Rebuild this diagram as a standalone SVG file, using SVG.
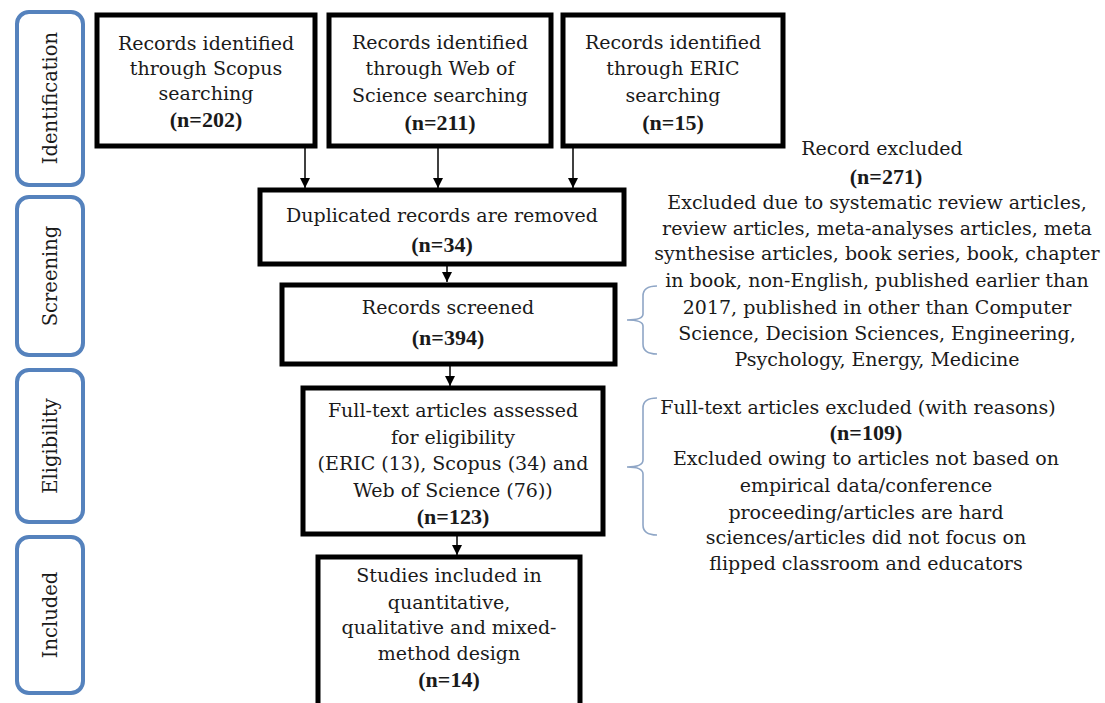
<svg xmlns="http://www.w3.org/2000/svg" width="1105" height="703" viewBox="0 0 1105 703">
<style>
text{font-family:"DejaVu Serif","Liberation Serif",serif;font-size:19px;fill:#1a1a1a;text-anchor:middle}
.b{font-family:"Liberation Serif","Times New Roman",serif;font-weight:bold;font-size:22px}
.ph{font-size:19.5px}
.box{fill:#fff;stroke:#000;stroke-width:5}
.phase{fill:#fff;stroke:#5582bd;stroke-width:4}
.brace{fill:none;stroke:#8fa6c6;stroke-width:1.6}
.conn{stroke:#000;stroke-width:1.5;fill:none}
</style>
<defs>
<marker id="ah" viewBox="0 0 10 10" refX="10" refY="5" markerWidth="10" markerHeight="10" markerUnits="userSpaceOnUse" orient="auto">
<path d="M0,0 L10,5 L0,10 z" fill="#000"/>
</marker>
</defs>
<rect width="1105" height="703" fill="#fff"/>

<g id="phase-identification"><rect class="phase" x="17" y="12" width="66" height="173" rx="12"/><text class="ph" transform="translate(57,98) rotate(-90)">Identification</text></g>
<g id="phase-screening"><rect class="phase" x="17" y="197" width="66" height="158" rx="12"/><text class="ph" transform="translate(57,276) rotate(-90)">Screening</text></g>
<g id="phase-eligibility"><rect class="phase" x="17" y="370" width="66" height="152" rx="12"/><text class="ph" transform="translate(57,446) rotate(-90)">Eligibility</text></g>
<g id="phase-included"><rect class="phase" x="17" y="537" width="66" height="156" rx="12"/><text class="ph" transform="translate(57,615) rotate(-90)">Included</text></g>

<g id="connectors">
<line class="conn" x1="305" y1="147" x2="305" y2="188" marker-end="url(#ah)"/>
<line class="conn" x1="438" y1="147" x2="438" y2="188" marker-end="url(#ah)"/>
<line class="conn" x1="573" y1="147" x2="573" y2="188" marker-end="url(#ah)"/>
<line class="conn" x1="447" y1="265" x2="447" y2="282" marker-end="url(#ah)"/>
<line class="conn" x1="450" y1="365" x2="450" y2="386" marker-end="url(#ah)"/>
<line class="conn" x1="457" y1="536" x2="457" y2="555" marker-end="url(#ah)"/>
<path class="brace" d="M657,286 Q643,286 643,296 L643,314 Q643,320 627,320 Q643,320 643,326 L643,344 Q643,354 657,354"/>
<path class="brace" d="M657,398 Q643,398 643,408 L643,460 Q643,467 627,467 Q643,467 643,474 L643,525 Q643,535 657,535"/>
</g>

<g id="scopus"><rect class="box" x="97" y="15" width="218" height="131"/>
<text x="206" y="50">Records identified</text><text x="206" y="75">through Scopus</text><text x="206" y="100">searching</text><text class="b" x="206" y="127">(n=202)</text></g>

<g id="wos"><rect class="box" x="329" y="15" width="222" height="131"/>
<text x="440" y="49">Records identified</text><text x="440" y="75">through Web of</text><text x="440" y="102">Science searching</text><text class="b" x="440" y="130">(n=211)</text></g>

<g id="eric"><rect class="box" x="563" y="15" width="220" height="131"/>
<text x="673" y="49">Records identified</text><text x="673" y="75">through ERIC</text><text x="673" y="102">searching</text><text class="b" x="673" y="130">(n=15)</text></g>

<g id="duplicated"><rect class="box" x="260" y="190" width="364" height="74"/>
<text x="442" y="222">Duplicated records are removed</text><text class="b" x="442" y="252">(n=34)</text></g>

<g id="screened"><rect class="box" x="282" y="285" width="333" height="79"/>
<text x="448" y="314">Records screened</text><text class="b" x="448" y="345">(n=394)</text></g>

<g id="fulltext"><rect class="box" x="303" y="388" width="300" height="146"/>
<text x="453" y="417">Full-text articles assessed</text><text x="453" y="444">for eligibility</text><text x="453" y="470">(ERIC (13), Scopus (34) and</text><text x="453" y="497">Web of Science (76))</text><text class="b" x="453" y="524">(n=123)</text></g>

<g id="included"><rect class="box" x="318" y="557" width="262" height="160"/>
<text x="449" y="582">Studies included in</text><text x="449" y="609">quantitative,</text><text x="449" y="634">qualitative and mixed-</text><text x="449" y="660">method design</text><text class="b" x="449" y="687">(n=14)</text></g>

<g id="excluded-screening">
<text x="882" y="155">Record excluded</text>
<text class="b" x="886" y="184">(n=271)</text>
<text x="877" y="209">Excluded due to systematic review articles,</text>
<text x="877" y="235">review articles, meta-analyses articles, meta</text>
<text x="877" y="260">synthesise articles, book series, book, chapter</text>
<text x="877" y="287">in book, non-English, published earlier than</text>
<text x="877" y="314">2017, published in other than Computer</text>
<text x="877" y="340">Science, Decision Sciences, Engineering,</text>
<text x="877" y="366">Psychology, Energy, Medicine</text>
</g>

<g id="excluded-eligibility">
<text x="858" y="414">Full-text articles excluded (with reasons)</text>
<text class="b" x="866" y="440">(n=109)</text>
<text x="866" y="465">Excluded owing to articles not based on</text>
<text x="866" y="492">empirical data/conference</text>
<text x="866" y="519">proceeding/articles are hard</text>
<text x="866" y="544">sciences/articles did not focus on</text>
<text x="866" y="570">flipped classroom and educators</text>
</g>
</svg>
